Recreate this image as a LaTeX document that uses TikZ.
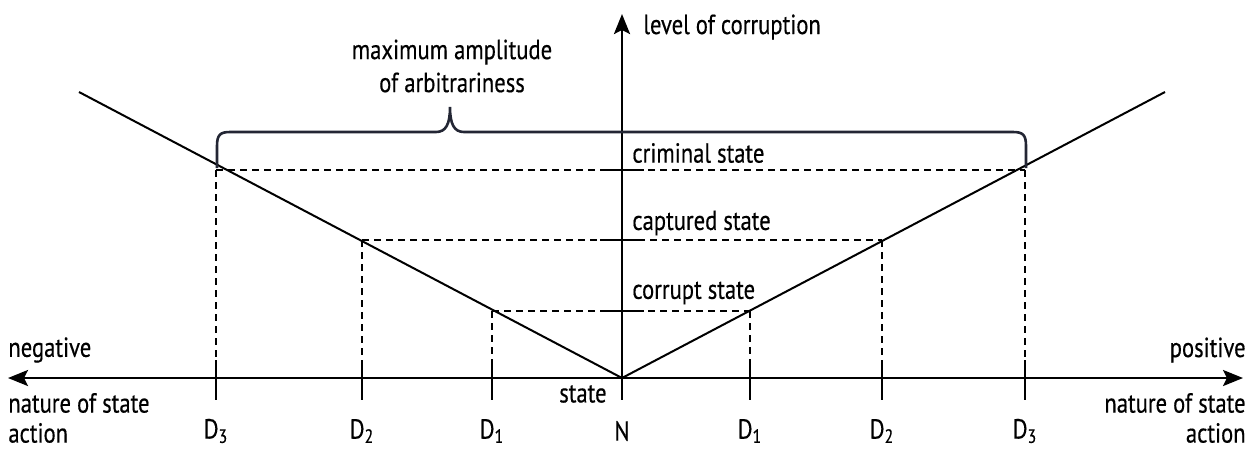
\documentclass[tikz,border=0pt]{standalone}
\usepackage{fontspec}
\setmainfont{PT Sans}[FakeStretch=0.82, FakeBold=0.4]
\usetikzlibrary{arrows.meta}
\definecolor{bracecol}{RGB}{35,38,52}
\tikzstyle{axis} = [line width=1.3pt, {Stealth[length=10pt,width=8pt,inset=2pt]}-{Stealth[length=10pt,width=8pt,inset=2pt]}]
\tikzstyle{upaxis} = [line width=1.3pt, -{Stealth[length=10pt,width=8pt,inset=2pt]}]
\tikzstyle{slope} = [line width=1pt]
\tikzstyle{guide} = [line width=0.55pt, dash pattern=on 3.5pt off 2.5pt]
\tikzstyle{tick} = [line width=1pt]
\tikzstyle{brace} = [line width=1.3pt, draw=bracecol]
\tikzstyle{lbl} = [inner sep=0pt, font=\fontsize{13.8}{15}\selectfont]

\begin{document}
\begin{tikzpicture}[x=0.5pt, y=-0.5pt]
        \useasboundingbox (0,0) rectangle (1251,452);

        \coordinate (N) at (622,378);
        \coordinate (AxisL) at (8,378);
        \coordinate (AxisR) at (1243,378);
        \coordinate (AxisTop) at (622,14);
        \coordinate (SlopeL) at (79,92);
        \coordinate (SlopeR) at (1165,92);

        \draw [axis] (AxisL) -- (AxisR);
        \draw [upaxis] (N) -- (AxisTop);
        \draw [slope] (SlopeL) -- (N) -- (SlopeR);

        % levels with dashed guides
        \foreach \i/\xl/\xr/\y in {1/492/750/311, 2/362/882/240, 3/216/1025/170} {
            \coordinate (LevL\i) at (\xl,\y);
            \coordinate (LevR\i) at (\xr,\y);
            \coordinate (FootL\i) at (\xl,360);
            \coordinate (FootR\i) at (\xr,360);
            \draw [guide] (LevL\i) -- (LevR\i);
            \draw [guide] (LevL\i) -- (FootL\i);
            \draw [guide] (LevR\i) -- (FootR\i);
            \draw [tick] (600,\y) -- (644,\y);
            \draw [tick] (\xl,360) -- (\xl,400);
            \draw [tick] (\xr,360) -- (\xr,400);
            \node (DL\i) [lbl] at (\xl,431) {D\textsubscript{\i}};
            \node (DR\i) [lbl] at (\xr,431) {D\textsubscript{\i}};
        }
        \draw [tick] (622,360) -- (622,400);

        \node (Nlabel) [lbl] at (622,431) {N};
        \node (state) [lbl, anchor=east] at (607,394) {state};

        \node (criminal) [lbl, anchor=west] at (632,153) {criminal state};
        \node (captured) [lbl, anchor=west] at (632,223) {captured state};
        \node (corrupt) [lbl, anchor=west] at (632,293) {corrupt state};
        \node (level) [lbl, anchor=west] at (643,27) {level of corruption};

        \node (negative) [lbl, anchor=west] at (8,350) {negative};
        \node (positive) [lbl, anchor=east] at (1246,350) {positive};
        \node (natureL) [lbl, anchor=west, align=left] at (8,418) {nature of state\\action};
        \node (natureR) [lbl, anchor=east, align=right] at (1246,418) {nature of state\\action};

        % brace over the widest band
        \coordinate (BraceL) at (217,168);
        \coordinate (BraceTip) at (450,107);
        \coordinate (BraceR) at (1026,168);
        \draw [brace] (BraceL) -- (217,146) .. controls (217,135) and (220,132) .. (230,132)
            -- (436,132) .. controls (446,132) and (450,124) .. (BraceTip)
            .. controls (450,124) and (454,132) .. (464,132)
            -- (1013,132) .. controls (1023,132) and (1026,135) .. (1026,146) -- (BraceR);
        \node (amplitude) [lbl, align=center, font=\fontsize{13.8}{16.5}\selectfont] at (452,66) {maximum amplitude\\of arbitrariness};
\end{tikzpicture}
\end{document}
